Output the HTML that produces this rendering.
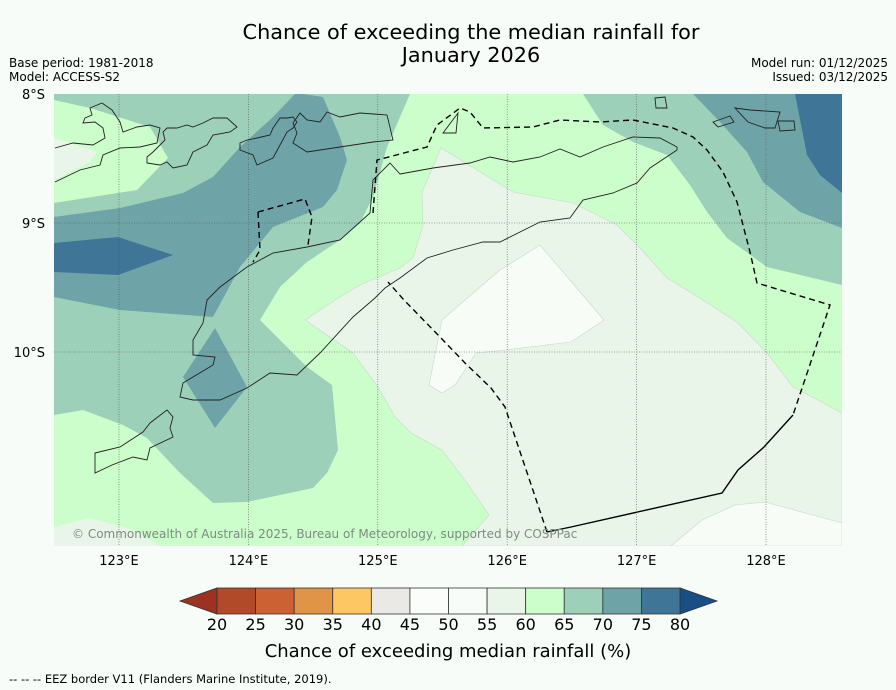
<!DOCTYPE html>
<html><head><meta charset="utf-8">
<style>
body{margin:0;background:#f7fcf8;}
#root{position:relative;width:896px;height:690px;background:#f7fcf8;font-family:"DejaVu Sans","Liberation Sans",sans-serif;overflow:hidden;}
svg{position:absolute;left:0;top:0;}
</style></head><body>
<div id="root">
<svg id="svg" width="896" height="690" viewBox="0 0 896 690">
<text x="471" y="39" font-size="20.8" text-anchor="middle" fill="#000">Chance of exceeding the median rainfall for</text>
<text x="471" y="62" font-size="20.8" text-anchor="middle" fill="#000">January 2026</text>
<text x="9" y="67" font-size="12">Base period: 1981-2018</text>
<text x="9" y="81" font-size="12">Model: ACCESS-S2</text>
<text x="888" y="67" font-size="12" text-anchor="end">Model run: 01/12/2025</text>
<text x="888" y="81" font-size="12" text-anchor="end">Issued: 03/12/2025</text>
<defs><clipPath id="mc"><rect x="54" y="94" width="788" height="452"/></clipPath></defs>
<g clip-path="url(#mc)">
<rect x="54" y="94" width="788" height="452" fill="#ccfecb"/>
<polygon fill="#eaf5e9" stroke="#c8d8c8" stroke-width="0.6" points="441,148 513,192 573,203 617,225 640,248 667,278 700,298 738,323 767,353 793,387 818,400 842,413 842,546 462,546 489,515 467,483 442,450 411,433 395,417 378,387 353,353 305,320 335,300 360,285 400,268 413,258 423,225 422,192"/>
<polygon fill="#f7fcf7" stroke="#c8d8c8" stroke-width="0.6" points="540,245 604,320 571,342 505,350 476,353 455,385 442,393 429,385 442,320 465,300 500,270"/>
<polygon fill="#f7fcf7" stroke="#c8d8c8" stroke-width="0.6" points="671,546 702,520 735,505 765,502 842,523 842,546"/>
<polygon fill="#9dd0b9" points="54,94 410,94 387,147 373,197 360,223 340,240 307,262 280,287 260,320 307,367 332,385 338,450 327,473 313,488 247,502 213,503 180,473 147,438 123,425 83,410 54,415"/>
<polygon fill="#ccfecb" points="54,100 90,108 150,127 168,158 137,190 54,203"/>
<polygon fill="#eaf5e9" points="54,138 97,152 90,162 54,180"/>
<polygon fill="#eaf5e9" points="54,527 90,518 133,530 160,546 54,546"/>
<polygon fill="#6ea4a7" points="303,94 323,97 340,137 347,160 337,190 323,207 273,227 240,267 213,317 120,310 54,297 54,217 120,208 183,193 213,177 240,147 273,117 295,94"/>
<polygon fill="#6ea4a7" points="215,328 247,387 215,428 183,377"/>
<polygon fill="#3f7697" points="54,243 118,237 173,255 118,275 54,272"/>
<polygon fill="#9dd0b9" points="583,94 603,125 633,142 667,155 690,185 707,212 727,238 767,267 842,285 842,94"/>
<polygon fill="#6ea4a7" points="693,94 720,122 747,152 763,182 800,212 842,228 842,94"/>
<polygon fill="#3f7697" points="795,94 807,155 820,175 842,193 842,94"/>
<g id="grid" stroke="#555" stroke-width="0.6" stroke-dasharray="1,1.5" fill="none"></g>
<g fill="none" stroke="#222" stroke-width="0.9">
<path d="M400,174 L433,168 L470,163 L490,157 L513,162 L540,157 L560,149 L580,157 L603,147 L633,137 L660,138 L677,147 L677,150 L650,168 L637,183 L613,193 L583,200 L570,218 L540,222 L500,242 L483,242 L453,250 L427,258 L400,278 L385,288 L375,298 L353,317 L320,353 L297,375 L270,373 L247,388 L220,400 L193,400 L180,397 L183,383 L213,365 L215,357 L193,355 L193,340 L203,323 L207,300 L220,287 L247,267 L273,253 L307,247 L340,240 L370,213 L373,180 L390,163 Z"/>
<path d="M95,453 L120,447 L143,432 L150,423 L167,410 L173,417 L170,428 L173,437 L150,448 L147,460 L133,457 L112,465 L95,473 Z"/>
<path d="M55,182 L80,170 L100,165 L103,155 L120,148 L140,147 L157,143 L160,128 L150,125 L137,127 L123,132 L120,122 L112,110 L102,103 L90,108 L92,115 L85,118 L83,123 L95,122 L103,128 L105,138 L93,145 L73,143 L55,148"/>
<path d="M147,163 L160,165 L167,162 L173,168 L187,165 L193,152 L207,145 L213,135 L230,132 L237,127 L227,118 L213,118 L203,123 L193,127 L187,125 L177,128 L167,128 L163,132 L165,140 L160,145 L153,152 L147,157 Z"/>
<path d="M240,150 L253,155 L257,165 L273,158 L280,145 L287,132 L293,128 L297,122 L293,117 L287,118 L280,118 L273,128 L270,135 L257,138 L247,140 L240,143 Z"/>
<path d="M293,143 L307,152 L340,147 L373,142 L393,140 L387,115 L360,113 L340,117 L327,112 L320,122 L307,120 L300,113 L293,123 L297,133 Z"/>
<path d="M655,98 L665,97 L667,108 L656,108 Z"/>
<path d="M713,122 L730,116 L734,122 L718,127 Z"/>
<path d="M735,108 L750,110 L780,112 L775,128 L765,128 L748,122 Z"/>
<path d="M778,121 L794,121 L795,130 L780,131 Z"/>
<path d="M443,133 L458,113 L456,133 Z"/>
</g>
<g fill="none" stroke="#000" stroke-width="1.4">
<path stroke-dasharray="6,4" d="M258,212 L305,199 L312,217 L308,245"/>
<path stroke-dasharray="6,4" d="M258,212 L260,250 L253,262"/>
<path stroke-dasharray="6,4" d="M373,213 L377,160 L427,147 L437,125 L460,108 L470,112 L483,128 L533,127 L560,120 L600,122 L633,120 L673,128 L693,137 L707,150 L723,172 L737,202 L750,252 L757,283 L830,305 L793,415"/>
<path d="M793,415 L764,447 L738,470 L722,493 L571,527 L547,532"/>
<path stroke-dasharray="6,4" d="M547,532 L505,407 L491,388 L465,363 L440,337 L404,300 L388,282"/>
</g>
<text x="72" y="538" font-size="12" fill="#808a84">© Commonwealth of Australia 2025, Bureau of Meteorology, supported by COSPPac</text>
</g>
<g id="axlabels" font-size="13" fill="#000"></g>
<g id="cbar"></g>
<text x="448" y="657" font-size="18" text-anchor="middle">Chance of exceeding median rainfall (%)</text>
<text x="9" y="683" font-size="11.5">--  --  -- EEZ border V11 (Flanders Marine Institute, 2019).</text>
</svg>
</div>
<script>
const lonTicks=[123,124,125,126,127,128];
const latTicks=[8,9,10];
const cbTicks=[20,25,30,35,40,45,50,55,60,65,70,75,80];
const cbColors=["#b04a28","#cc6233","#e09448","#fdc864","#ebe9e6","#fbfdfb","#f8fcf8","#eaf5e9","#ccfecb","#9dd0b9","#6ea4a7","#3f7697"];
const NS="http://www.w3.org/2000/svg";
const xLon=v=>119+(v-123)*129.4;
const yLat=v=>94+(v-8)*129;
const xCb=v=>217+(v-20)*(463/60);
function mk(tag,attrs,parent){const e=document.createElementNS(NS,tag);for(const k in attrs)e.setAttribute(k,attrs[k]);parent.appendChild(e);return e;}
const grid=document.getElementById('grid');
const axl=document.getElementById('axlabels');
lonTicks.forEach(v=>{
  const l=mk('line',{x1:xLon(v),x2:xLon(v),y1:94,y2:546},grid);
  
  
  const t=mk('text',{x:xLon(v),y:565,'text-anchor':'middle'},axl);
  t.textContent=v+'°E';
  
  
});
latTicks.forEach(v=>{
  if(v>8){const l=mk('line',{x1:54,x2:842,y1:yLat(v),y2:yLat(v)},grid);
  
  }
  const t=mk('text',{x:45,y:yLat(v)+5,'text-anchor':'end'},axl);
  t.textContent=v+'°S';
  
  
});
const cb=document.getElementById('cbar');
const y0=588,h=26;
const lt=mk('polygon',{points:`180,${y0+h/2} 217,${y0} 217,${y0+h}`,fill:'#9c3320',stroke:'#333','stroke-width':0.8},cb);


const rt=mk('polygon',{points:`717,${y0+h/2} 680,${y0} 680,${y0+h}`,fill:'#1a4f85',stroke:'#333','stroke-width':0.8},cb);


cbColors.forEach((c,i)=>{
  const r=mk('rect',{x:xCb(cbTicks[i]),y:y0,width:xCb(cbTicks[i+1])-xCb(cbTicks[i]),height:h,fill:c,stroke:'#333','stroke-width':0.8},cb);
  
  
});
cbTicks.forEach(v=>{
  const t=mk('text',{x:xCb(v),y:630,'text-anchor':'middle','font-size':16},cb);
  t.textContent=v;
  
  
});
</script>
</body></html>
